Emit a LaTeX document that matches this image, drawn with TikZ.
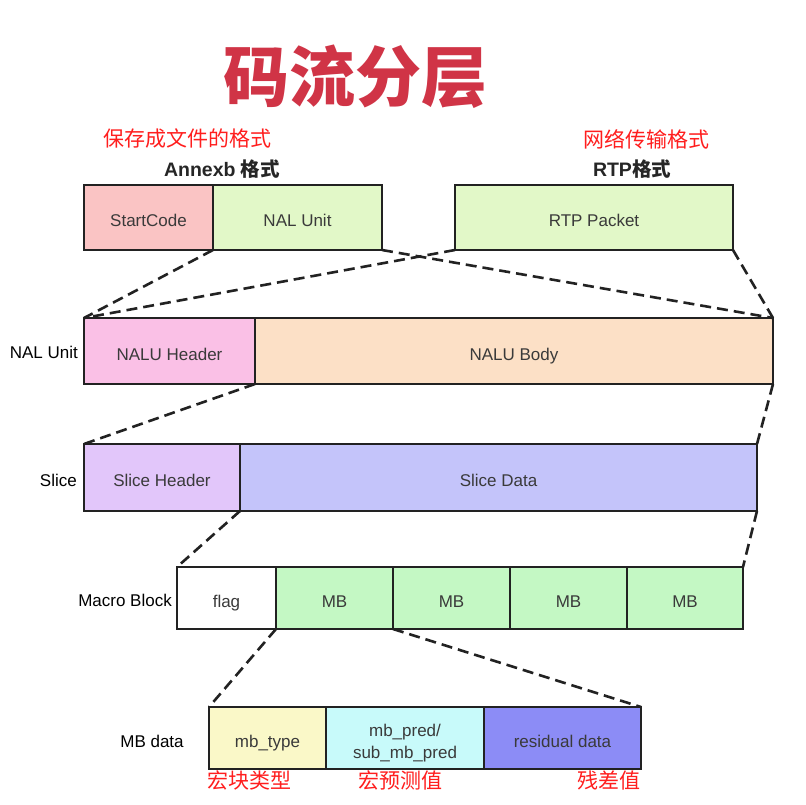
\documentclass[tikz,border=0pt]{standalone}
\usepackage{fontspec}
\setmainfont{Liberation Sans}
\newfontfamily\cjk{Noto Sans CJK SC}
\definecolor{titlered}{RGB}{208,52,70}
\definecolor{notered}{RGB}{255,30,30}
\definecolor{edge}{RGB}{34,34,34}
\definecolor{boxtext}{RGB}{58,58,58}
\definecolor{cStart}{RGB}{250,196,196}
\definecolor{cNal}{RGB}{226,248,200}
\definecolor{cNaluH}{RGB}{250,192,230}
\definecolor{cNaluB}{RGB}{252,224,198}
\definecolor{cSliceH}{RGB}{226,198,250}
\definecolor{cSliceD}{RGB}{196,196,250}
\definecolor{cMB}{RGB}{196,248,196}
\definecolor{cType}{RGB}{250,248,200}
\definecolor{cPred}{RGB}{200,250,250}
\definecolor{cResid}{RGB}{140,140,246}
\tikzset{
  cell/.style={draw=edge, line width=2.4pt, inner sep=0pt, outer sep=0pt,
    font=\fontsize{17}{22}\selectfont, text=boxtext, align=center,
    text height=18pt, text depth=0pt},
  rowlabel/.style={font=\fontsize{17}{20}\selectfont, text=black, inner sep=0pt},
  fmtlabel/.style={font=\fontsize{19.5}{22}\selectfont\bfseries, text=black!85, inner sep=0pt},
  note/.style={font=\fontsize{21}{24}\selectfont\cjk, text=notered, inner sep=0pt},
  zoomline/.style={draw=edge, line width=2.6pt, dash pattern=on 11pt off 6pt},
}
% a cell spanning x1..x2, y1..y2 (pixel-style coordinates, y downwards)
\newcommand{\cellbox}[8][]{%
  \node[cell, fill=#3, minimum width={(#5-#4)*1pt}, minimum height={(#7-#6)*1pt}, #1]
    (#2) at ({(#4+#5)/2},{(#6+#7)/2}) {#8};}
\newcommand{\hanzi}[1]{{\cjk\bfseries #1}}
\begin{document}
\begin{tikzpicture}[x=1pt,y=-1pt]
\useasboundingbox (0,0) rectangle (806,804);
\fill[white] (0,0) rectangle (806,804);

% title and format captions
\node[font=\fontsize{66}{70}\selectfont\bfseries\cjk, text=titlered] (title) at (355,77) {码流分层};
\node[note] (noteA) at (187,139) {保存成文件的格式};
\node[note] (noteR) at (646,139) {网络传输格式};
\node[fmtlabel] (fmtA) at (222,169) {Annexb \hanzi{格式}};
\node[fmtlabel] (fmtR) at (632,169) {RTP\hanzi{格式}};

% stream formats
\cellbox{sc}{cStart}{84}{213}{185}{250}{StartCode}
\cellbox{nal}{cNal}{213}{382}{185}{250}{NAL Unit}
\cellbox{rtp}{cNal}{455}{733}{185}{250}{RTP Packet}

% NAL unit
\node[rowlabel, anchor=east] (lNal) at (78,352) {NAL Unit};
\cellbox{naluh}{cNaluH}{84}{255}{318}{384}{NALU Header}
\cellbox{nalub}{cNaluB}{255}{773}{318}{384}{NALU Body}

% slice
\node[rowlabel, anchor=east] (lSlice) at (77,480) {Slice};
\cellbox{sh}{cSliceH}{84}{240}{444}{511}{Slice Header}
\cellbox{sd}{cSliceD}{240}{757}{444}{511}{Slice Data}

% macro blocks
\node[rowlabel, anchor=east] (lMB) at (172,600) {Macro Block};
\cellbox{flag}{white}{177}{276}{567}{629}{flag}
\cellbox{mbA}{cMB}{276}{393}{567}{629}{MB}
\cellbox{mbB}{cMB}{393}{510}{567}{629}{MB}
\cellbox{mbC}{cMB}{510}{627}{567}{629}{MB}
\cellbox{mbD}{cMB}{627}{743}{567}{629}{MB}

% macro block data
\node[rowlabel] (lData) at (152,741) {MB data};
\cellbox{type}{cType}{209}{326}{707}{769}{mb\_type}
\cellbox[text height=40pt]{pred}{cPred}{326}{484}{707}{769}{mb\_pred/\\sub\_mb\_pred}
\cellbox{resid}{cResid}{484}{641}{707}{769}{residual data}

\node[note, anchor=west] (nType) at (207,780) {宏块类型};
\node[note, anchor=west] (nPred) at (358,780) {宏预测值};
\node[note, anchor=west] (nResid) at (577,780) {残差值};

% expansion lines between layers
\draw[zoomline] (sc.south east) -- (naluh.north west);
\draw[zoomline] (rtp.south west) -- (naluh.north west);
\draw[zoomline] (nal.south east) -- (nalub.north east);
\draw[zoomline] (rtp.south east) -- (nalub.north east);
\draw[zoomline] (naluh.south east) -- (sh.north west);
\draw[zoomline] (nalub.south east) -- (sd.north east);
\draw[zoomline] (sh.south east) -- (flag.north west);
\draw[zoomline] (sd.south east) -- (mbD.north east);
\draw[zoomline] (mbA.south west) -- (type.north west);
\draw[zoomline] (mbA.south east) -- (resid.north east);
\end{tikzpicture}
\end{document}
